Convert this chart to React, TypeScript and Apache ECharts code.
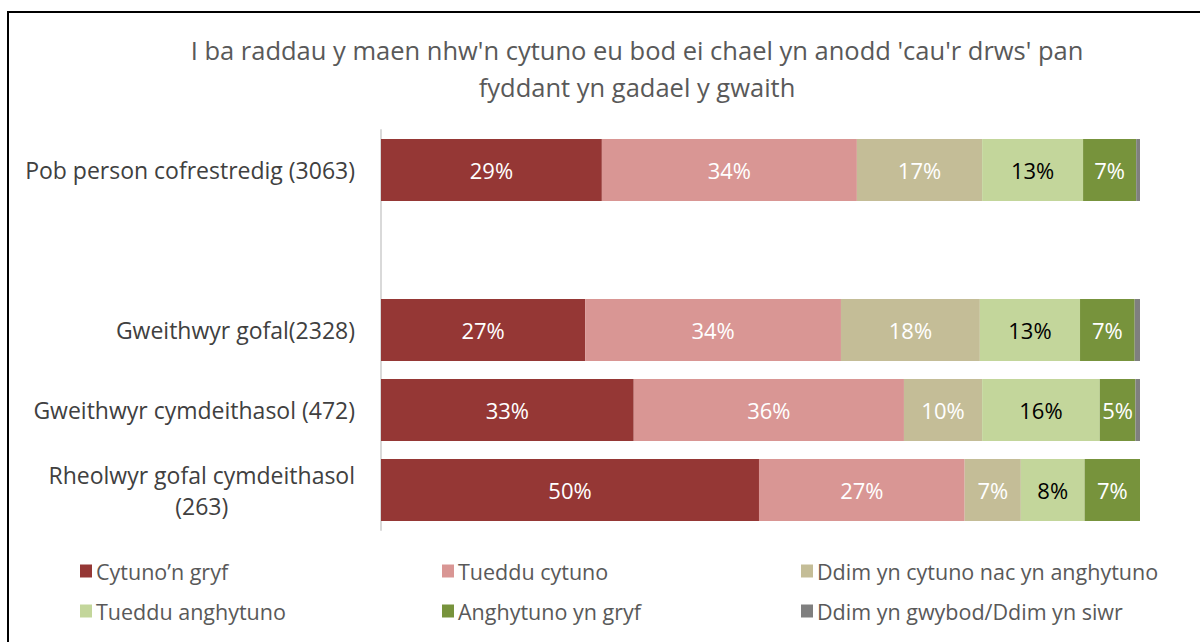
import React, { useEffect, useRef } from "react";
import * as echarts from "echarts";

const titleText = "I ba raddau y maen nhw'n cytuno eu bod ei chael yn anodd 'cau'r drws' pan\nfyddant yn gadael y gwaith";

const categories = [
  "Pob person cofrestredig (3063)",
  "",
  "Gweithwyr gofal(2328)",
  "Gweithwyr cymdeithasol (472)",
  "Rheolwyr gofal cymdeithasol\n(263)",
];

const seriesNames = [
  "Cytuno’n gryf",
  "Tueddu cytuno",
  "Ddim yn cytuno nac yn anghytuno",
  "Tueddu anghytuno",
  "Anghytuno yn gryf",
  "Ddim yn gwybod/Ddim yn siwr",
];

const strongAgree = [29.1, null, 26.9, 33.3, 49.8];
const tendAgree = [33.6, null, 33.7, 35.6, 27.1];
const neither = [16.5, null, 18.3, 10.3, 7.4];
const tendDisagree = [13.3, null, 13.2, 15.5, 8.4];
const strongDisagree = [7.0, null, 7.2, 4.7, 7.3];
const dontKnow = [0.5, null, 0.7, 0.6, 0];

const seriesData = [strongAgree, tendAgree, neither, tendDisagree, strongDisagree, dontKnow];
const colors = ["#953735", "#D99694", "#C4BD97", "#C3D69B", "#77933C", "#7F7F7F"];
const labelColors = ["#ffffff", "#ffffff", "#ffffff", "#000000", "#ffffff", "#ffffff"];

const FONT = "Open Sans";

export default function App() {
  const ref = useRef<HTMLDivElement>(null);
  useEffect(() => {
    if (!ref.current) return;
    const chart = echarts.init(ref.current, null, { renderer: "svg" });

    const legendPos = [
      [80, 560], [442, 560], [801, 560],
      [80, 600], [442, 600], [801, 600],
    ];

    const option: any = {
      animation: false,
      backgroundColor: "#ffffff",
      textStyle: { fontFamily: FONT },
      title: {
        text: titleText,
        left: 632,
        top: 26,
        textAlign: "center",
        textStyle: {
          fontFamily: FONT,
          fontSize: 25.5,
          fontWeight: "normal",
          color: "#595959",
          lineHeight: 37,
        },
      },
      legend: seriesNames.map((n, i) => ({
        data: [n],
        left: legendPos[i][0],
        top: legendPos[i][1],
        icon: "rect",
        itemWidth: 12,
        itemHeight: 13,
        itemGap: 0,
        padding: 0,
        selectedMode: false,
        textStyle: { fontFamily: FONT, fontSize: 21.5, color: "#595959", padding: [0, 0, 0, -1] },
      })),
      grid: { left: 381, top: 130, width: 759, height: 400, containLabel: false },
      xAxis: {
        type: "value",
        min: 0,
        max: 100,
        show: false,
      },
      yAxis: {
        type: "category",
        inverse: true,
        data: categories,
        axisLine: { show: true, lineStyle: { color: "#D9D9D9", width: 2 } },
        axisTick: { show: false },
        splitLine: { show: false },
        axisLabel: {
          margin: 26,
          fontFamily: FONT,
          fontSize: 23,
          color: "#404040",
          lineHeight: 31,
          formatter: (v: string) => {
            if (v.indexOf("\n") >= 0) {
              return v.split("\n").map((s) => `{c|${s}}`).join("\n");
            }
            return v;
          },
          rich: {
            c: { align: "center", fontFamily: FONT, fontSize: 23, color: "#404040", lineHeight: 31 },
          },
        },
      },
      series: seriesNames.map((n, i) => ({
        name: n,
        type: "bar",
        stack: "total",
        barWidth: 62,
        data: seriesData[i],
        itemStyle: { color: colors[i] },
        label: {
          show: i < 5,
          position: "inside",
          fontFamily: FONT,
          fontSize: 22,
          color: labelColors[i],
          formatter: (p: any) => (p.value == null ? "" : Math.round(p.value) + "%"),
        },
      })),
      graphic: [
        {
          type: "rect",
          shape: { x: 8, y: 12, width: 1300, height: 800 },
          style: { fill: "none", stroke: "#000000", lineWidth: 2 },
          silent: true,
        },
      ],
    };
    chart.setOption(option);
    return () => chart.dispose();
  }, []);
  return <div ref={ref} style={{ position: "fixed", left: 0, top: 0, width: 1200, height: 642 }} />;
}
